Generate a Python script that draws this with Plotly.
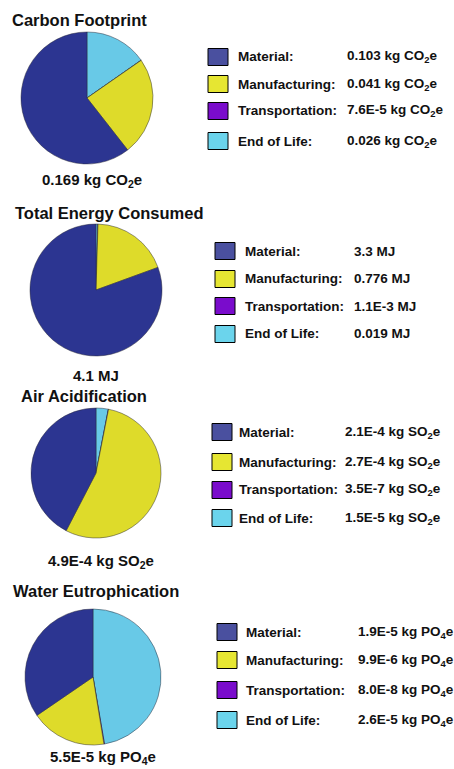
import plotly.graph_objects as go

# ---------------- data ----------------
titles = ["Carbon Footprint", "Total Energy Consumed", "Air Acidification", "Water Eutrophication"]
categories = ["Material", "Manufacturing", "Transportation", "End of Life"]

carbon_values = [0.103, 0.041, 7.6e-5, 0.026]
energy_values = [3.3, 0.776, 1.1e-3, 0.019]
air_values = [2.1e-4, 2.7e-4, 3.5e-7, 1.5e-5]
water_values = [1.9e-5, 9.9e-6, 8.0e-8, 2.6e-5]

carbon_text = ["0.103", "0.041", "7.6E-5", "0.026"]
energy_text = ["3.3", "0.776", "1.1E-3", "0.019"]
air_text = ["2.1E-4", "2.7E-4", "3.5E-7", "1.5E-5"]
water_text = ["1.9E-5", "9.9E-6", "8.0E-8", "2.6E-5"]

units = ["kg CO<sub>2</sub>e", "MJ", "kg SO<sub>2</sub>e", "kg PO<sub>4</sub>e"]
totals = ["0.169", "4.1", "4.9E-4", "5.5E-5"]

series_values = [carbon_values, energy_values, air_values, water_values]
series_text = [carbon_text, energy_text, air_text, water_text]

# ---------------- style / layout ----------------
W, H = 454, 769
pie_colors = ["#2c3591", "#dedb2a", "#7a10c8", "#68c9e7"]
swatch_colors = ["#4a509f", "#e6e632", "#7a0ccc", "#6bd4ec"]
FONT = "Liberation Sans, Arial, sans-serif"

sections = [
    dict(tx=11, ty=20, cx=87, cy=98, d=132, sx=92, sy=180, swx=208, lx=236, vx=345, rows=[57, 84, 111, 141]),
    dict(tx=14, ty=213, cx=96, cy=290, d=132, sx=96, sy=375, swx=215, lx=243, vx=352, rows=[251, 279, 306, 334]),
    dict(tx=20, ty=396, cx=96, cy=473, d=130, sx=101, sy=561, swx=212, lx=237, vx=343, rows=[432, 462, 490, 518]),
    dict(tx=12, ty=591, cx=93, cy=677, d=136, sx=103, sy=757, swx=217, lx=244, vx=356, rows=[632, 660, 690, 720]),
]

def px(x):
    return x / W

def py(y):
    return 1 - y / H

fig = go.Figure()
annotations = []
shapes = []

for i, s in enumerate(sections):
    r = s["d"] / 2
    # slices run counter-clockwise from 12 o'clock in the reference:
    # equivalently, reversed order drawn clockwise from 12 o'clock
    fig.add_trace(go.Pie(
        labels=categories[::-1],
        values=series_values[i][::-1],
        sort=False,
        direction="clockwise",
        rotation=0,
        textinfo="none",
        hoverinfo="label+value",
        showlegend=False,
        marker=dict(colors=pie_colors[::-1], line=dict(color="rgba(40,40,55,0.6)", width=0.8)),
        domain=dict(x=[px(s["cx"] - r), px(s["cx"] + r)], y=[py(s["cy"] + r), py(s["cy"] - r)]),
    ))
    # title
    annotations.append(dict(
        x=px(s["tx"]), y=py(s["ty"]), xref="paper", yref="paper",
        xanchor="left", yanchor="middle", showarrow=False, borderpad=0,
        text="<b>%s</b>" % titles[i],
        font=dict(family=FONT, size=16.5, color="#111"),
    ))
    # total below pie
    annotations.append(dict(
        x=px(s["sx"]), y=py(s["sy"]), xref="paper", yref="paper",
        xanchor="center", yanchor="middle", showarrow=False, borderpad=0,
        text="<b>%s %s</b>" % (totals[i], units[i]),
        font=dict(family=FONT, size=15, color="#111"),
    ))
    # legend rows
    for j, cat in enumerate(categories):
        yc = s["rows"][j]
        shapes.append(dict(
            type="rect", xref="paper", yref="paper",
            x0=px(s["swx"]), x1=px(s["swx"] + 20),
            y0=py(yc + 8.5), y1=py(yc - 8.5),
            fillcolor=swatch_colors[j], line=dict(color="#000", width=1),
        ))
        annotations.append(dict(
            x=px(s["lx"]), y=py(yc), xref="paper", yref="paper",
            xanchor="left", yanchor="middle", showarrow=False,
            text="<b>%s:</b>" % cat,
            font=dict(family=FONT, size=13.5, color="#111"),
        ))
        annotations.append(dict(
            x=px(s["vx"]), y=py(yc), xref="paper", yref="paper",
            xanchor="left", yanchor="middle", showarrow=False,
            text="<b>%s %s</b>" % (series_text[i][j], units[i]),
            font=dict(family=FONT, size=13.5, color="#111"),
        ))

fig.update_layout(
    width=W, height=H,
    margin=dict(l=0, r=0, t=0, b=0),
    paper_bgcolor="white", plot_bgcolor="white",
    annotations=annotations, shapes=shapes,
)

fig.write_html(
    "out.html",
    config={"displayModeBar": False},
    post_script="document.body.style.margin='0';document.body.style.overflow='hidden';",
)
